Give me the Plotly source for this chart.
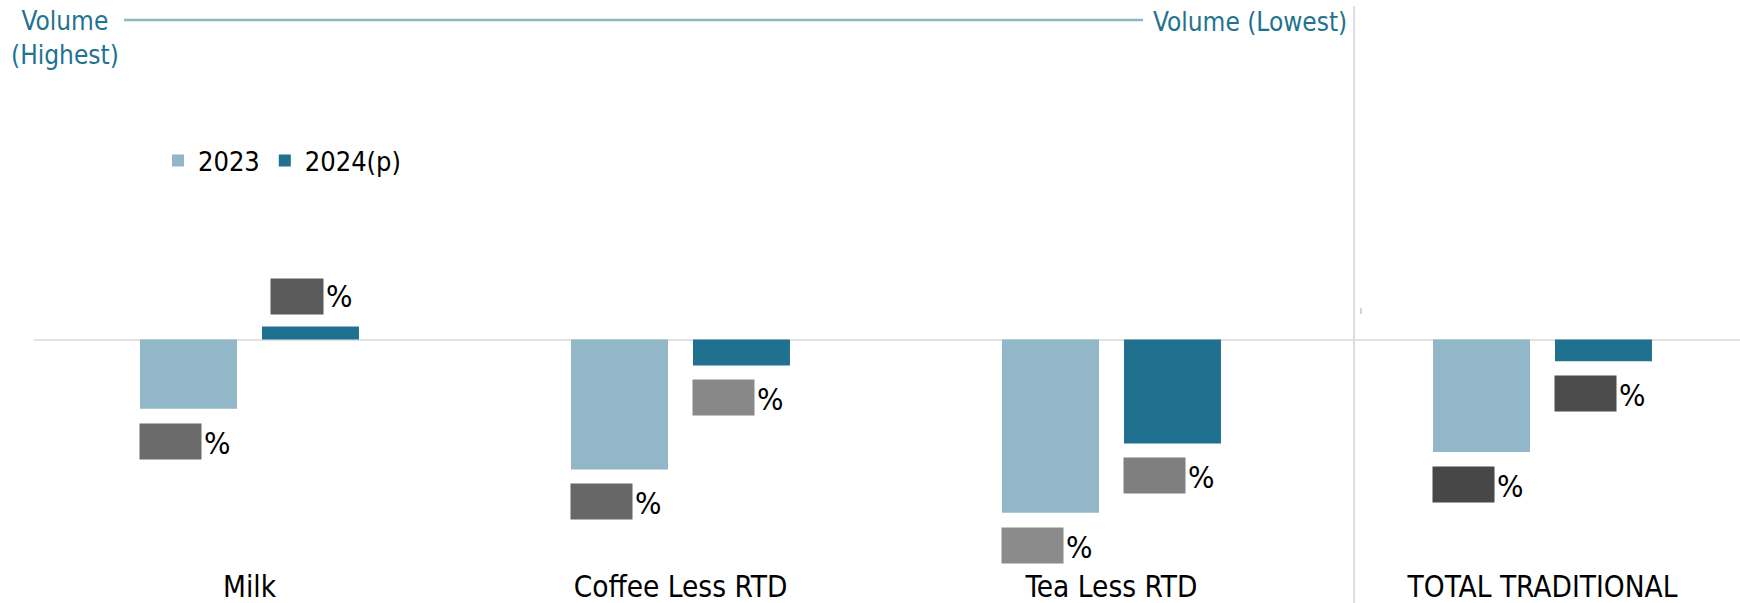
import plotly.graph_objects as go

categories = ["Milk", "Coffee Less RTD", "Tea Less RTD", "TOTAL TRADITIONAL"]
series_names = ["2023", "2024(p)"]
values_2023 = [-1.6, -3.0, -4.0, -2.6]
values_2024 = [0.3, -0.6, -2.4, -0.5]

W, H = 1740, 603
FONT = "DejaVu Sans Condensed, DejaVu Sans, sans-serif"
C_LIGHT = "#92B7C8"
C_DARK = "#20708F"
TEAL_TEXT = "#1F7290"
box_2023 = ["#6b6b6b", "#676767", "#8b8b8b", "#474747"]
box_2024 = ["#5a5a5a", "#888888", "#7f7f7f", "#4c4c4c"]

# layout geometry (pixels)
plot_left, plot_right = 34, 1740
plot_top, plot_bottom = 0, 566
zero_px = 339.5
px_per_unit = 43.3
cat_px = 431.0

y_max = (zero_px - plot_top) / px_per_unit
y_min = -(plot_bottom - zero_px) / px_per_unit
x_min = -0.5
x_max = x_min + (plot_right - plot_left) / cat_px

fig = go.Figure()
fig.add_trace(go.Bar(x=categories, y=values_2023, name=series_names[0],
                     marker=dict(color=C_LIGHT, line=dict(width=0))))
fig.add_trace(go.Bar(x=categories, y=values_2024, name=series_names[1],
                     marker=dict(color=C_DARK, line=dict(width=0))))

annotations = []
bar_off = 61
for vals, boxes, off in [(values_2023, box_2023, -bar_off), (values_2024, box_2024, bar_off)]:
    for cat, v, bc in zip(categories, vals, boxes):
        if v < 0:
            ya, ys = "top", -14
        else:
            ya, ys = "bottom", 12
        annotations.append(dict(
            x=cat, y=v, xref="x", yref="y", xanchor="right", yanchor=ya,
            xshift=off + 13, yshift=ys, showarrow=False,
            text="\u2009" + f"{v:.1f}" + "\u2009",
            font=dict(family=FONT, size=28, color=bc),
            bgcolor=bc, borderpad=1))
        annotations.append(dict(
            x=cat, y=v, xref="x", yref="y", xanchor="left", yanchor=ya,
            xshift=off + 13, yshift=ys + (0 if v < 0 else -1), showarrow=False, text="%",
            font=dict(family=FONT, size=31, color="#000000")))

annotations.append(dict(
    x=65 / W, y=1 - 38 / H, xref="paper", yref="paper", xanchor="center", yanchor="middle",
    text="Volume<br>(Highest)", align="center", showarrow=False,
    font=dict(family=FONT, size=26, color=TEAL_TEXT)))
annotations.append(dict(
    x=1349 / W, y=1 - 22 / H, xref="paper", yref="paper", xanchor="right", yanchor="middle",
    text="Volume (Lowest)", showarrow=False,
    font=dict(family=FONT, size=26, color=TEAL_TEXT)))

shapes = [
    dict(type="line", xref="paper", yref="paper", x0=124 / W, x1=1143 / W,
         y0=1 - 20 / H, y1=1 - 20 / H, line=dict(color="#8DB6C6", width=2.5)),
    dict(type="line", xref="paper", yref="paper", x0=1354 / W, x1=1354 / W,
         y0=1 - 6 / H, y1=0, line=dict(color="#DEDEDE", width=2)),
    dict(type="line", xref="paper", yref="paper", x0=1361 / W, x1=1361 / W,
         y0=1 - 308 / H, y1=1 - 314 / H, line=dict(color="#B3C9E0", width=1.5)),
]

fig.update_layout(
    width=W, height=H,
    margin=dict(l=0, r=0, t=0, b=0),
    paper_bgcolor="white", plot_bgcolor="white",
    barmode="group", bargap=0.434, bargroupgap=0.205,
    font=dict(family=FONT, size=29, color="#000000"),
    showlegend=True,
    legend=dict(orientation="h", x=158 / W, y=1 - 161 / H, xanchor="left", yanchor="middle",
                font=dict(family=FONT, size=27, color="#000000"),
                bgcolor="rgba(0,0,0,0)", traceorder="normal", itemwidth=30),
    xaxis=dict(domain=[plot_left / W, plot_right / W], range=[x_min, x_max],
               showgrid=False, showline=False, ticks="", zeroline=False,
               tickfont=dict(family=FONT, size=29.5, color="#000000")),
    yaxis=dict(domain=[1 - plot_bottom / H, 1 - plot_top / H], range=[y_min, y_max],
               showgrid=False, showticklabels=False, ticks="", showline=False,
               zeroline=True, zerolinecolor="#E2E2E2", zerolinewidth=2),
    annotations=annotations, shapes=shapes,
)

fig.write_html("out.html")
